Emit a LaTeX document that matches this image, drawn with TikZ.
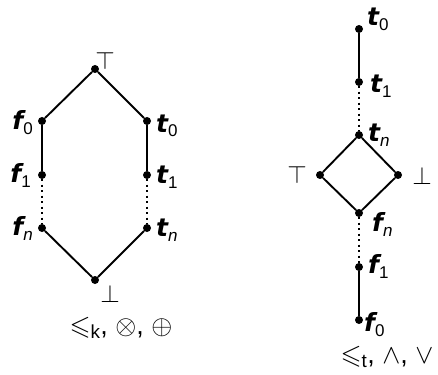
\documentclass[tikz,border=0pt]{standalone}
\usepackage{fix-cm}
\usepackage{amssymb}
\usepackage{fontspec}
\setmainfont{Liberation Sans}
\setsansfont{Liberation Sans}
\newfontfamily\letterfont{DejaVu Sans}
\newcommand{\lbl}[2]{{\letterfont\bfseries\itshape #1}\raisebox{-5pt}{\fontsize{17}{19}\selectfont #2}}
\begin{document}
\begin{tikzpicture}[x=1pt,y=-1pt,
  dot/.style={circle,fill=black,inner sep=0pt,minimum size=8pt},
  edge/.style={line width=1.9pt},
  dots/.style={line width=1.9pt,dash pattern=on 1.9pt off 3.6pt},
  lab/.style={font=\fontsize{25}{29}\selectfont,inner sep=0pt},
  sym/.style={font=\fontsize{25}{29}\selectfont,inner sep=0pt},
  captext/.style={font=\fontsize{27}{31}\selectfont,inner sep=0pt}]
\useasboundingbox (0,0) rectangle (438,374);
% left lattice
\node[dot] (T) at (95,69) {};
\node[dot] (f0) at (42,121) {};
\node[dot] (t0) at (147,121) {};
\node[dot] (f1) at (42,175) {};
\node[dot] (t1) at (147,175) {};
\node[dot] (fn) at (42,228) {};
\node[dot] (tn) at (147,228) {};
\node[dot] (B) at (95,280) {};
\draw[edge] (T) -- (f0) -- (f1);
\draw[edge] (T) -- (t0) -- (t1);
\draw[dots] (f1) -- (fn);
\draw[dots] (t1) -- (tn);
\draw[edge] (fn) -- (B) -- (tn);
\node[sym] (lT) at (105,61) {$\top$};
\node[sym] (lB) at (110,294) {$\bot$};
\node[lab,anchor=base east] (lf0) at (33,130) {\lbl{f}{0}};
\node[lab,anchor=base east] (lf1) at (31,182) {\lbl{f}{1}};
\node[lab,anchor=base east] (lfn) at (33,235) {\lbl{f}{\itshape n}};
\node[lab,anchor=base west] (lt0) at (156,132) {\lbl{t}{0}};
\node[lab,anchor=base west] (lt1) at (156,183) {\lbl{t}{1}};
\node[lab,anchor=base west] (ltn) at (156,236) {\lbl{t}{\itshape n}};
\node[captext] (kt) at (121,328) {$\leqslant_{\mathsf{k}}$, $\otimes$, $\oplus$};
% right lattice
\node[dot] (rt0) at (359,29) {};
\node[dot] (rt1) at (359,82) {};
\node[dot] (rtn) at (359,135) {};
\node[dot] (rT) at (320,175) {};
\node[dot] (rB) at (398,175) {};
\node[dot] (rfn) at (359,213) {};
\node[dot] (rf1) at (359,267) {};
\node[dot] (rf0) at (359,320) {};
\draw[edge] (rt0) -- (rt1);
\draw[dots] (rt1) -- (rtn);
\draw[edge] (rtn) -- (rT) -- (rfn) -- (rB) -- (rtn);
\draw[dots] (rfn) -- (rf1);
\draw[edge] (rf1) -- (rf0);
\node[sym] (rTl) at (297,175) {$\top$};
\node[sym] (rBl) at (422,176) {$\bot$};
\node[lab,anchor=base west] (rlt0) at (367,26) {\lbl{t}{0}};
\node[lab,anchor=base west] (rlt1) at (370,93) {\lbl{t}{1}};
\node[lab,anchor=base west] (rltn) at (368,142) {\lbl{t}{\itshape n}};
\node[lab,anchor=base west] (rlfn) at (372,231) {\lbl{f}{\itshape n}};
\node[lab,anchor=base west] (rlf1) at (368,273) {\lbl{f}{1}};
\node[lab,anchor=base west] (rlf0) at (364,331) {\lbl{f}{0}};
\node[captext] (tt) at (387,357) {$\leqslant_{\mathrm{t}}$, $\wedge$, $\vee$};
\end{tikzpicture}
\end{document}
